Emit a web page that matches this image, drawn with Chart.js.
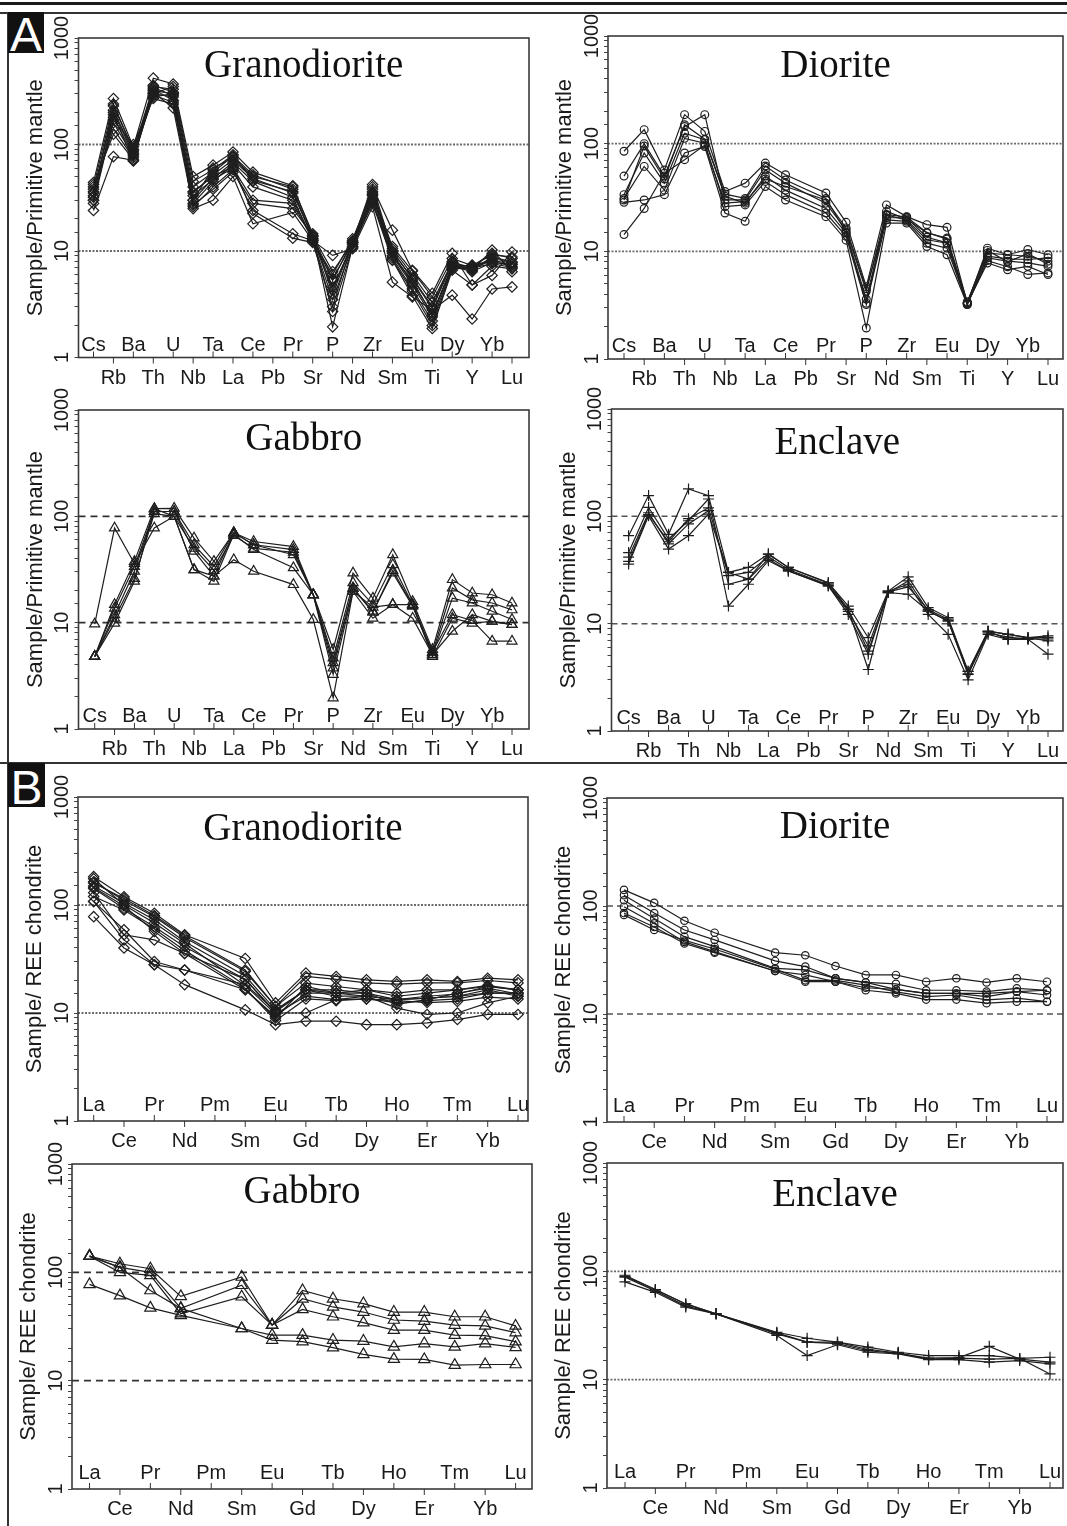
<!DOCTYPE html>
<html>
<head>
<meta charset="utf-8">
<script src="https://cdn.jsdelivr.net/npm/chart.js@4.4.1/dist/chart.umd.min.js"></script>
<style>
  body { margin: 0; background: #fff; }
  #page { position: relative; width: 1067px; height: 1526px; overflow: hidden; background: #fff; font-family: "Liberation Sans", Arial, sans-serif; }
  #page canvas { position: absolute; }
  .rule { position: absolute; background: #1a1a1a; }
  .tag { position: absolute; background: #111; }
  .tag-letter { position: absolute; color: #fff; font: 48px/48px "Liberation Sans", Arial, sans-serif; text-align: center; }
</style>
</head>
<body>
<div id="page">
  <div class="rule" style="left:0;top:2px;width:1067px;height:3px;"></div>
  <div class="rule" style="left:0;top:12px;width:1067px;height:1.5px;background:#333;"></div>
  <div class="rule" style="left:7px;top:12px;width:1.5px;height:1514px;background:#333;"></div>
  <div class="rule" style="left:0;top:762px;width:1067px;height:2px;background:#333;"></div>
  <div class="tag" style="left:8px;top:12px;width:36px;height:41px;"></div>
  <div class="tag-letter" style="left:8px;top:11px;width:36px;">A</div>
  <div class="tag" style="left:8px;top:763px;width:37px;height:44px;"></div>
  <div class="tag-letter" style="left:8px;top:764px;width:37px;">B</div>
</div>
<script>
// element order along the x axis
const spiderElements = ["Cs", "Rb", "Ba", "Th", "U", "Nb", "Ta", "La", "Ce", "Pb", "Pr", "Sr", "P", "Nd", "Zr", "Sm", "Eu", "Ti", "Dy", "Y", "Yb", "Lu"];
const reeElements = ["La", "Ce", "Pr", "Nd", "Pm", "Sm", "Eu", "Gd", "Tb", "Dy", "Ho", "Er", "Tm", "Yb", "Lu"];
const yTickLabels = ["1", "10", "100", "1000"];
const referenceLevels = [10, 100];
const panelTitles = ["Granodiorite", "Diorite", "Gabbro", "Enclave"];
const spiderAxisTitle = "Sample/Primitive mantle";
const reeAxisTitle = "Sample/ REE chondrite";

// primitive-mantle normalised spider data (Pb not plotted)
const granodioriteSpider = [
  [44, 270, 95, 420, 370, 50, 64, 85, 55, null, 41, 14, 6.4, 12, 42, 10, 5.5, 2.9, 7.6, 6.6, 8.8, 7.9],
  [40, 240, 88, 350, 330, 40, 55, 78, 52, null, 38, 13, 5.3, 12.5, 38, 9.5, 5.0, 2.6, 7.1, 6.8, 8.2, 7.5],
  [35, 210, 85, 320, 300, 35, 52, 72, 48, null, 35, 13.5, 4.6, 11.5, 35, 9, 4.8, 2.4, 7.4, 7.2, 9.5, 8.5],
  [30, 180, 80, 300, 280, 30, 48, 68, 45, null, 32, 12.5, 3.5, 11, 33, 8.6, 4.4, 2.2, 7, 7.4, 8, 7.2],
  [32, 160, 78, 330, 260, 28, 45, 65, 40, null, 30, 13, 2.7, 10.8, 30, 8.2, 4.2, 2.0, 6.8, 6.9, 7.6, 7.0],
  [38, 140, 75, 290, 250, 33, 47, 60, 30, null, 28, 12.8, 4.3, 12, 31, 10.5, 6.0, 3.3, 7.8, 7, 8.5, 7.8],
  [42, 125, 72, 310, 220, 26, 40, 58, 24, null, 14.5, 12.5, 6.0, 13, 36, 11, 6.5, 3.7, 8.5, 7.3, 9.2, 8.8],
  [36, 200, 82, 280, 300, 36, 50, 62, 22.5, null, 13.2, 12.0, 3.0, 12.3, 29, 9.0, 5.3, 2.5, 7.2, 6.4, 7.8, 7.5],
  [30, 190, 70, 360, 310, 27, 38, 55, 28, null, 25, 14, 1.94, 11, 28, 8.2, 3.8, 1.87, 6.6, 4.8, 7.2, 6.8],
  [24, 77, 71, 340, 290, 25, 30, 50, 18, null, 23, 12.5, 9.1, 10.5, 26, 5.1, 3.7, 2.8, 3.85, 2.3, 4.4, 4.6],
  [33, 230, 90, 300, 350, 45, 58, 80, 46, null, 36, 13.7, 5.5, 11.8, 40, 15.7, 6.6, 4.0, 9.5, 4.8, 5.9, 9.8],
  [28, 170, 100, 270, 240, 30, 60, 75, 50, null, 40, 14.5, 3.9, 12, 34, 9.8, 5.6, 3.0, 8.0, 6.6, 10.2, 6.4]
];
const dioriteSpider = [
  [85, 135, 57, 186, 130, 36, 43, 66, 51.5, null, 34.8, 18.6, 4.7, 27, 21, 17.7, 16.7, 3.3, 10.7, 9.3, 10.4, 9.3],
  [50, 100, 50, 144, 186, 30, 30, 57, 43, null, 28, 15.8, 4.25, 23.5, 20, 14.8, 13.3, 3.4, 9.6, 9.3, 9.0, 8.1],
  [33.6, 82, 43, 125, 109, 32.5, 28, 50, 37, null, 25, 14.8, 3.3, 21.8, 19.5, 12.8, 11.9, 3.2, 8.7, 8.1, 7.8, 7.25],
  [31, 61.5, 37, 112, 101, 26, 27, 44.6, 33.6, null, 22.7, 13.8, 3.2, 19.6, 19, 11.9, 10.7, 3.3, 7.8, 6.75, 7.25, 6.1],
  [28.5, 30, 33.6, 82, 94, 22.7, 19, 40, 30, null, 21, 12.7, 1.94, 18.3, 18.3, 11.1, 9.3, 3.2, 8.2, 7.2, 6.1, 6.3],
  [14.3, 25, 53, 71, 97, 28, 29, 47, 40, null, 30, 16.5, 4.5, 20.5, 20.5, 13.5, 12, 3.3, 9, 8.5, 8.4, 8.7],
  [30, 95, 47, 150, 110, 34, 31, 62, 46, null, 31, 15, 3.6, 22, 20.8, 15, 13, 3.3, 10.2, 8.0, 9.5, 7.6]
];
const gabbroSpider = [
  [9.7, 77.6, 36, 77.6, 100, 31.5, 27.4, 39, 30.4, null, 22.8, 10.7, 1.96, 19.7, 11, 14.8, 11, 5.0, 8.3, 11.9, 10.3, 9.6],
  [4.8, 14.8, 37.7, 118, 119, 62.5, 37.7, 70, 58, null, 52, 18.3, 5.6, 29.3, 17, 43.6, 15.8, 5.6, 25.4, 19, 18.3, 15.3],
  [4.8, 13.7, 33.8, 111, 111, 54, 33.8, 70, 54, null, 48.7, 18.3, 4.65, 23.7, 14.8, 35, 14.8, 5.2, 21.2, 16.4, 15.3, 13.2],
  [4.8, 11.9, 30.4, 111, 111, 47, 27.4, 70, 54, null, 43.6, 18.3, 3.75, 21.2, 12.8, 29.3, 14.3, 5.0, 17, 15.3, 12.8, 10.7],
  [4.8, 9.9, 24.5, 118, 100, 31.5, 24.5, 68, 48.7, null, 32.8, 18.3, 3.25, 19.7, 14, 14.8, 14.8, 4.8, 11, 9.9, 10.3, 9.6],
  [4.8, 11, 26, 106, 100, 50, 31, 66, 50, null, 46, 18.3, 4.2, 21, 12.5, 31, 14.5, 5.3, 11.9, 10.5, 6.7, 6.7]
];
const enclaveSpider = [
  [66, 156, 68, 180, 156, 30, 33.4, 44.5, 33.4, null, 24, 14.6, 7.4, 20.1, 27.3, 14.1, 11.4, 3.6, 8.5, 7.95, 7.4, 7.7],
  [46, 121, 61.5, 91, 145, 23.3, 26, 40, 31, null, 22.5, 13.6, 5.55, 19.5, 25, 13.1, 10.6, 3.36, 8.5, 7.15, 7.4, 6.9],
  [41.6, 108, 55.5, 85, 113, 14.6, 23.3, 38.6, 31, null, 22.5, 12.2, 5.2, 20.1, 23.3, 12.2, 7.95, 3.0, 7.95, 7.15, 7.15, 5.2],
  [35.9, 101, 49.5, 66, 105, 30, 26, 44.5, 33.4, null, 24, 13.6, 3.74, 19.5, 18.8, 13.1, 10.6, 3.6, 8.5, 7.95, 7.4, 7.4],
  [38, 104, 58, 95, 120, 28, 30, 42, 32, null, 23, 13, 6.2, 19.8, 22, 13.5, 11, 3.4, 8.2, 7.5, 7.2, 7.2]
];

// chondrite normalised REE data (Pm not plotted)
const granodioriteRee = [
  [183, 119, 84, 53, null, 32, 12.4, 23.4, 21.8, 20.3, 19.6, 20.3, 19.6, 21, 20.3],
  [164, 110, 78, 50, null, 24.2, 11.5, 18.9, 17.6, 16.4, 15.3, 16.4, 16.4, 17.6, 16.4],
  [150, 104, 73, 46, null, 22, 10.7, 16.4, 15.3, 15.3, 13.3, 13.7, 14.3, 15.3, 15.3],
  [142, 93, 63, 41, null, 20.5, 10.2, 16.4, 14.3, 14.3, 13.3, 13.7, 14.3, 16.4, 14.3],
  [175, 100, 68, 44, null, 18, 9.8, 14.3, 13.3, 13.5, 12.5, 13, 13.5, 15.3, 15.3],
  [108, 59, 30, 25, null, 16.4, 9.3, 15.3, 15.3, 14.3, 13.3, 14.3, 15, 17.6, 16.4],
  [108, 47.5, 28, 25, null, 18.3, 10.5, 16.4, 16.4, 15.3, 12, 13.3, 15.3, 17, 15],
  [78, 40, 28, 18.3, null, 10.7, 7.8, 8.4, 8.4, 7.8, 7.8, 8.1, 8.7, 9.7, 9.7],
  [130, 53, 47.5, 35.6, null, 20.5, 10, 10, 13.3, 14.3, 11.1, 9.7, 10, 12.4, 14.3],
  [120, 90, 60, 38, null, 17, 8.5, 13.5, 13, 13.5, 13, 12.5, 12.8, 14, 13.5],
  [160, 115, 80, 52, null, 25, 11.5, 21.8, 20.5, 19, 18.5, 19, 19, 20, 19],
  [145, 98, 57, 35.6, null, 16.4, 9, 17.6, 15.3, 16.4, 14.3, 15.3, 16.4, 18, 16.4]
];
const dioriteRee = [
  [141, 107, 73, 56.6, null, 37, 35, 27.8, 23, 23, 19.9, 21.4, 19.6, 21.4, 19.9],
  [126, 86, 60, 48.5, null, 31, 27.5, 21.4, 19.6, 19, 16.6, 16.6, 16.1, 17.3, 16.6],
  [113, 76.5, 52, 42, null, 26.5, 25.6, 21.4, 19.6, 16.9, 15.5, 15.5, 14.5, 16.1, 15],
  [98.5, 69, 46.5, 37.8, null, 25, 23, 19.9, 16.6, 15.5, 13.6, 13.6, 12.6, 13, 13],
  [86, 64, 45, 37, null, 25, 19.9, 19.9, 17.5, 16.9, 15.5, 15.5, 15.5, 16.1, 16.6],
  [82.7, 60, 48, 40, null, 26, 20.5, 20.5, 18.5, 16, 14.5, 15, 13.5, 14, 13]
];
const gabbroRee = [
  [141, 120, 108, 60, null, 90.6, 32.6, 68, 57, 51.5, 43, 43, 38.9, 38.9, 32],
  [141, 111, 100, 46.5, null, 76, 32.6, 57, 47.9, 43, 36.3, 35.5, 32.6, 32, 27.8],
  [141, 100, 93.6, 41.5, null, 59.5, 32.6, 45.5, 38.9, 34.3, 29.3, 29.3, 26.3, 26, 22.9],
  [141, 111, 68, 46.5, null, 30.3, 26.3, 26.3, 23.7, 23.2, 20.5, 22, 20.5, 22, 20.3],
  [77.5, 61, 47, 40, null, 30.3, 23.7, 22.9, 20.2, 17.5, 15.8, 15.7, 13.9, 14.1, 14.1]
];
const enclaveRee = [
  [92, 68, 50, 40.5, null, 27.4, 24.1, 22.2, 20, 17.9, 16.7, 16.7, 16.7, 15.7, 16.1],
  [88.5, 66, 48, 40.5, null, 26.5, 22.2, 21.5, 18.5, 17.5, 15.8, 16, 20.3, 15.5, 14.5],
  [80, 64, 46.8, 40.5, null, 25.6, 16.7, 21, 17.9, 17.3, 15.3, 15.3, 14.5, 15, 14],
  [90, 68, 50, 40.5, null, 27, 22.2, 22.2, 19, 17.6, 15.5, 15.8, 15.5, 15.7, 11.3]
];

const refStyles = {
  dot: { dash: [2, 1.5], color: "#6a6a6a", width: 1.8 },
  dash: { dash: [7, 5], color: "#333", width: 1.8 },
  dashLight: { dash: [6, 4], color: "#555", width: 1.5 }
};

// panel boxes: [left, top, right, bottom] of the plot frame, first/last = x pixel of first/last element
const panels = [
  { box: [78.5, 38, 529, 357.5], first: 93.5, last: 512, labels: spiderElements, samples: granodioriteSpider, title: panelTitles[0], yTitle: spiderAxisTitle, marker: "rectRot", radius: 5.2, ref: "dot", titleDy: 39, upDy: 7 },
  { box: [608, 36, 1063, 359], first: 624, last: 1048, labels: spiderElements, samples: dioriteSpider, title: panelTitles[1], yTitle: spiderAxisTitle, marker: "circle", radius: 3.9, ref: "dot", titleDy: 41, upDy: 7 },
  { box: [78.5, 410, 529, 729], first: 94.7, last: 512, labels: spiderElements, samples: gabbroSpider, title: panelTitles[2], yTitle: spiderAxisTitle, marker: "triangle", radius: 5.8, ref: "dash", titleDy: 40, upDy: 7 },
  { box: [611.5, 409, 1063, 731], first: 628.6, last: 1048, labels: spiderElements, samples: enclaveSpider, title: panelTitles[3], yTitle: spiderAxisTitle, marker: "cross", radius: 5.5, ref: "dashLight", titleDy: 45, upDy: 7 },
  { box: [78, 797, 528, 1121], first: 93.7, last: 518, labels: reeElements, samples: granodioriteRee, title: panelTitles[0], yTitle: reeAxisTitle, marker: "rectRot", radius: 5.2, ref: "dot", titleDy: 43, upDy: 10 },
  { box: [607, 798, 1063, 1122], first: 624, last: 1047, labels: reeElements, samples: dioriteRee, title: panelTitles[1], yTitle: reeAxisTitle, marker: "circle", radius: 3.7, ref: "dashLight", titleDy: 40, upDy: 10 },
  { box: [72, 1164, 532, 1489], first: 89.5, last: 515.6, labels: reeElements, samples: gabbroRee, title: panelTitles[2], yTitle: reeAxisTitle, marker: "triangle", radius: 6.5, ref: "dash", titleDy: 39, upDy: 10 },
  { box: [607, 1163, 1063, 1488], first: 625, last: 1050, labels: reeElements, samples: enclaveRee, title: panelTitles[3], yTitle: reeAxisTitle, marker: "cross", radius: 5.5, ref: "dot", titleDy: 43, upDy: 10 }
];

const sansFont = '"Liberation Sans", Arial, sans-serif';
const serifFont = '"Liberation Serif", "Times New Roman", serif';

const panelDecor = {
  id: "panelDecor",
  beforeDatasetsDraw(chart, args, o) {
    const { ctx, chartArea: a } = chart;
    const y = chart.scales.y;
    ctx.save();
    ctx.strokeStyle = o.refStyle.color;
    ctx.lineWidth = o.refStyle.width;
    ctx.setLineDash(o.refStyle.dash);
    referenceLevels.forEach((v) => {
      const py = y.getPixelForValue(v);
      ctx.beginPath();
      ctx.moveTo(a.left, py);
      ctx.lineTo(a.right, py);
      ctx.stroke();
    });
    ctx.restore();
  },
  afterDraw(chart, args, o) {
    const { ctx, chartArea: a } = chart;
    const x = chart.scales.x;
    const y = chart.scales.y;
    ctx.save();

    // frame
    ctx.strokeStyle = "#3a3a3a";
    ctx.lineWidth = 1.6;
    ctx.strokeRect(a.left, a.top, a.right - a.left, a.bottom - a.top);

    // element ticks, alternating inside / outside
    ctx.lineWidth = 1;
    ctx.strokeStyle = "#333";
    ctx.fillStyle = "#1a1a1a";
    ctx.font = "20px " + sansFont;
    ctx.textAlign = "center";
    ctx.textBaseline = "alphabetic";
    o.labels.forEach((lab, i) => {
      const px = x.getPixelForValue(i);
      const up = i % 2 === 0;
      ctx.beginPath();
      ctx.moveTo(px, a.bottom);
      ctx.lineTo(px, up ? a.bottom - 6 : a.bottom + 6);
      ctx.stroke();
      ctx.fillText(lab, px, up ? a.bottom - o.upDy : a.bottom + 26);
    });

    // rotated y tick labels
    yTickLabels.forEach((lab) => {
      const py = y.getPixelForValue(Number(lab));
      ctx.save();
      ctx.translate(a.left - 16, py);
      ctx.rotate(-Math.PI / 2);
      ctx.textBaseline = "middle";
      ctx.fillText(lab, 0, 0);
      ctx.restore();
    });

    // y axis title
    ctx.save();
    ctx.font = "22px " + sansFont;
    ctx.translate(a.left - 43, (a.top + a.bottom) / 2);
    ctx.rotate(-Math.PI / 2);
    ctx.textBaseline = "middle";
    ctx.fillText(o.yTitle, 0, 0);
    ctx.restore();

    // panel title
    ctx.font = "39px " + serifFont;
    ctx.fillStyle = "#111";
    ctx.fillText(o.title, (a.left + a.right) / 2, a.top + o.titleDy);
    ctx.restore();
  }
};

function buildPanel(p) {
  const [L, T, R, B] = p.box;
  const cl = Math.max(0, Math.floor(L - 82));
  const ct = Math.floor(T - 24);
  const cr = Math.min(1067, Math.ceil(R + 5));
  const cb = Math.ceil(B + 34);
  const canvas = document.createElement("canvas");
  canvas.width = cr - cl;
  canvas.height = cb - ct;
  canvas.style.left = cl + "px";
  canvas.style.top = ct + "px";
  document.getElementById("page").appendChild(canvas);

  const n = p.labels.length - 1;
  const step = (p.last - p.first) / n;

  new Chart(canvas, {
    type: "line",
    data: {
      datasets: p.samples.map((s) => ({
        data: s.map((v, i) => ({ x: i, y: v })),
        borderColor: "#1e1e1e",
        borderWidth: 1.2,
        tension: 0,
        spanGaps: true,
        pointStyle: p.marker,
        pointRadius: p.radius,
        pointBorderColor: "#1e1e1e",
        pointBackgroundColor: "rgba(255,255,255,0)",
        pointBorderWidth: 1.2
      }))
    },
    options: {
      responsive: false,
      animation: false,
      events: [],
      layout: {
        autoPadding: false,
        padding: { left: L - cl, top: T - ct, right: cr - R, bottom: cb - B }
      },
      plugins: {
        legend: { display: false },
        tooltip: { enabled: false },
        panelDecor: {
          labels: p.labels,
          title: p.title,
          yTitle: p.yTitle,
          refStyle: refStyles[p.ref],
          titleDy: p.titleDy,
          upDy: p.upDy
        }
      },
      scales: {
        x: {
          type: "linear",
          display: false,
          min: -(p.first - L) / step,
          max: n + (R - p.last) / step
        },
        y: {
          type: "logarithmic",
          position: "left",
          min: 1,
          max: 1000,
          afterFit(scale) {
            scale.width = 0;
          },
          border: { display: false },
          grid: { drawOnChartArea: false, drawTicks: true, tickLength: 4, color: "#444", lineWidth: 1 },
          ticks: { display: false, autoSkip: false }
        }
      }
    },
    plugins: [panelDecor]
  });
}

panels.forEach(buildPanel);
</script>
</body>
</html>
